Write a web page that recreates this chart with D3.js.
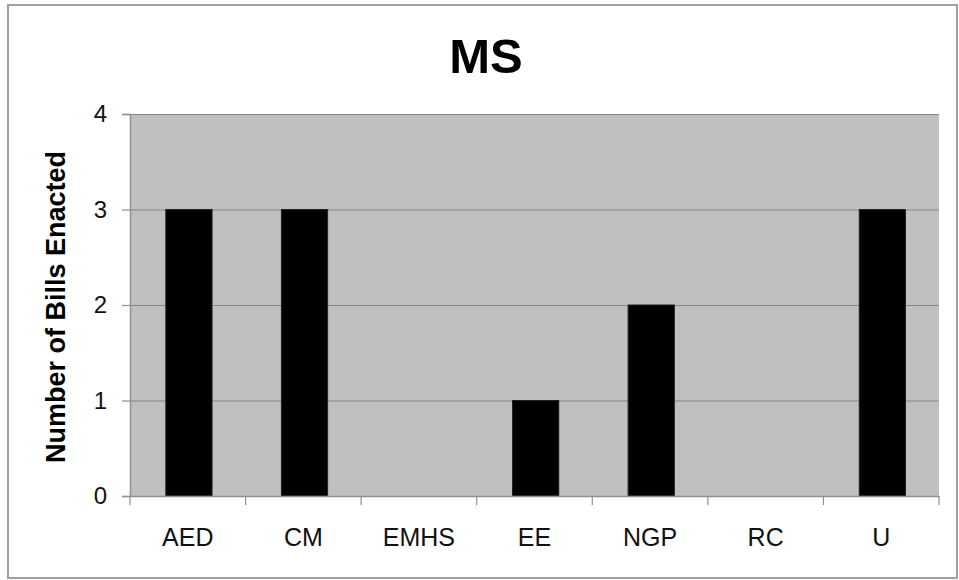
<!DOCTYPE html>
<html>
<head>
<meta charset="utf-8">
<script src="https://cdn.jsdelivr.net/npm/d3@7"></script>
<style>
  html, body { margin: 0; padding: 0; background: #fff; }
  svg { display: block; font-family: Arial, "Liberation Sans", sans-serif; }
</style>
</head>
<body>
<svg id="chart" width="959" height="580"></svg>
<script>
const categories = ["AED", "CM", "EMHS", "EE", "NGP", "RC", "U"];
const values = [3, 3, 0, 1, 2, 0, 3];
const yTicks = [0, 1, 2, 3, 4];
const title = "MS";
const yTitle = "Number of Bills Enacted";

const svg = d3.select("#chart");
const plot = { left: 130, right: 939, top: 114, bottom: 496 };

// outer border
svg.append("rect")
  .attr("x", 8).attr("y", 5)
  .attr("width", 949).attr("height", 573)
  .attr("fill", "#fff")
  .attr("stroke", "#a0a0a0").attr("stroke-width", 2);

const x = d3.scaleBand().domain(categories).range([plot.left, plot.right]).padding(0);
const y = d3.scaleLinear().domain([0, 4]).range([plot.bottom, plot.top]);

// plot background
svg.append("rect")
  .attr("x", plot.left).attr("y", plot.top)
  .attr("width", plot.right - plot.left).attr("height", plot.bottom - plot.top)
  .attr("fill", "#c0c0c0");

// gridlines
svg.append("g").selectAll("line")
  .data(yTicks.filter(d => d > 0))
  .join("line")
  .attr("x1", plot.left).attr("x2", plot.right)
  .attr("y1", d => y(d) + 0.5).attr("y2", d => y(d) + 0.5)
  .attr("stroke", "#858585").attr("stroke-width", 1.2);

// bars
svg.append("g").selectAll("rect")
  .data(categories.map((c, i) => ({ c, v: values[i] })).filter(d => d.v > 0))
  .join("rect")
  .attr("x", d => x(d.c) + x.bandwidth() * 0.31)
  .attr("width", x.bandwidth() * 0.4)
  .attr("y", d => y(d.v))
  .attr("height", d => y(0) - y(d.v))
  .attr("fill", "#000")
  .attr("stroke", "#222").attr("stroke-width", 1);

// y axis
const yAxis = d3.axisLeft(y).tickValues(yTicks).tickSize(8).tickPadding(15).tickFormat(d3.format("d"));
const gy = svg.append("g").attr("transform", `translate(${plot.left},0)`).call(yAxis);
gy.select(".domain").attr("stroke", "#909090").attr("stroke-width", 1.5);
gy.selectAll(".tick line").attr("stroke", "#909090").attr("stroke-width", 1.2);
gy.selectAll(".tick text")
  .attr("font-size", 24).attr("fill", "#111")
  .attr("font-family", "Arial, 'Liberation Sans', sans-serif");

// x axis
const xAxis = d3.axisBottom(x).tickSize(0).tickPadding(32);
const gx = svg.append("g").attr("transform", `translate(0,${plot.bottom})`).call(xAxis);
gx.select(".domain").attr("stroke", "#909090").attr("stroke-width", 1.5);
gx.selectAll(".tick text")
  .attr("font-size", 25).attr("fill", "#111")
  .attr("font-family", "Arial, 'Liberation Sans', sans-serif");

// x boundary ticks
const bounds = categories.map(c => x(c)).concat([plot.right]);
svg.append("g").selectAll("line")
  .data(bounds)
  .join("line")
  .attr("x1", d => d).attr("x2", d => d)
  .attr("y1", plot.bottom).attr("y2", plot.bottom + 9)
  .attr("stroke", "#909090").attr("stroke-width", 1.2);

// title
svg.append("text")
  .attr("x", 486).attr("y", 73)
  .attr("text-anchor", "middle")
  .attr("font-size", 49).attr("font-weight", "bold")
  .attr("fill", "#000")
  .text(title);

// y title
svg.append("text")
  .attr("transform", `translate(65,307) rotate(-90)`)
  .attr("text-anchor", "middle")
  .attr("font-size", 27).attr("font-weight", "bold")
  .attr("fill", "#000")
  .text(yTitle);
</script>
</body>
</html>
